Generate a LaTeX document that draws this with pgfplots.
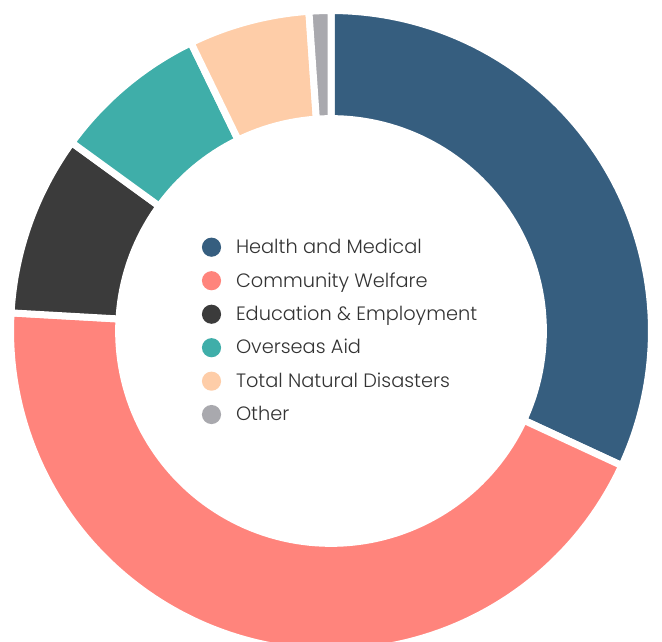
\documentclass[border=0pt]{standalone}
\usepackage{pgfplots}
\pgfplotsset{compat=1.18}
\usepackage{fontspec}
\setmainfont{Poppins}[UprightFont={* Light}]
\definecolor{hm}{HTML}{365E7F}
\definecolor{cw}{HTML}{FF847C}
\definecolor{ed}{HTML}{3B3B3B}
\definecolor{oa}{HTML}{3FAEA9}
\definecolor{nd}{HTML}{FECDA8}
\definecolor{ot}{HTML}{A9A9AE}
\definecolor{txt}{HTML}{333333}
% shares in percent, clockwise from the top
\def\vA{31.9}\def\vB{44.0}\def\vC{9.1}\def\vD{7.8}\def\vE{6.1}\def\vF{1.1}
\begin{document}
\begin{tikzpicture}
\pgfmathsetmacro\aA{90}
\pgfmathsetmacro\aB{\aA-3.6*\vA}
\pgfmathsetmacro\aC{\aB-3.6*\vB}
\pgfmathsetmacro\aD{\aC-3.6*\vC}
\pgfmathsetmacro\aE{\aD-3.6*\vD}
\pgfmathsetmacro\aF{\aE-3.6*\vE}
\pgfmathsetmacro\aG{\aF-3.6*\vF}
\begin{axis}[
  x=237.75pt, y=237.75pt,
  xmin=-1.0442, xmax=1.0442, ymin=-0.981, ymax=1.0442,
  hide axis, clip=true,
  legend cell align=left,
  legend style={at={(rel axis cs:0.515,0.4847)}, anchor=center, draw=none, fill=none,
    font=\fontsize{14.5}{16.5}\selectfont, text=txt, row sep=8.7pt, column sep=9.25pt},
]
\coordinate (bl) at (rel axis cs:0,0);
\coordinate (tr) at (rel axis cs:1,1);
\addplot[fill=hm, draw=white, line width=5.25pt, domain=\aB:\aA, samples=120, variable=\t,
  legend image code/.code={\fill[hm] (0pt,0pt) circle (4.5pt);}]
  ({1.011*cos(\t)},{1.011*sin(\t)}) -- (axis cs:0,0) -- cycle;
\addlegendentry{Health and Medical}
\addplot[fill=cw, draw=white, line width=5.25pt, domain=\aC:\aB, samples=160, variable=\t,
  legend image code/.code={\fill[cw] (0pt,0pt) circle (4.5pt);}]
  ({1.011*cos(\t)},{1.011*sin(\t)}) -- (axis cs:0,0) -- cycle;
\addlegendentry{Community Welfare}
\addplot[fill=ed, draw=white, line width=5.25pt, domain=\aD:\aC, samples=40, variable=\t,
  legend image code/.code={\fill[ed] (0pt,0pt) circle (4.5pt);}]
  ({1.011*cos(\t)},{1.011*sin(\t)}) -- (axis cs:0,0) -- cycle;
\addlegendentry{Education \& Employment}
\addplot[fill=oa, draw=white, line width=5.25pt, domain=\aE:\aD, samples=40, variable=\t,
  legend image code/.code={\fill[oa] (0pt,0pt) circle (4.5pt);}]
  ({1.011*cos(\t)},{1.011*sin(\t)}) -- (axis cs:0,0) -- cycle;
\addlegendentry{Overseas Aid}
\addplot[fill=nd, draw=white, line width=5.25pt, domain=\aF:\aE, samples=30, variable=\t,
  legend image code/.code={\fill[nd] (0pt,0pt) circle (4.5pt);}]
  ({1.011*cos(\t)},{1.011*sin(\t)}) -- (axis cs:0,0) -- cycle;
\addlegendentry{Total Natural Disasters}
\addplot[fill=ot, draw=white, line width=5.25pt, domain=\aG:\aF, samples=10, variable=\t,
  legend image code/.code={\fill[ot] (0pt,0pt) circle (4.5pt);}]
  ({1.011*cos(\t)},{1.011*sin(\t)}) -- (axis cs:0,0) -- cycle;
\addlegendentry{Other}
\addplot[fill=white, draw=none, domain=0:360, samples=200, variable=\t, forget plot]
  ({0.681*cos(\t)},{0.681*sin(\t)}) -- cycle;
\end{axis}
\pgfresetboundingbox
\path[use as bounding box] (bl) rectangle (tr);
\end{tikzpicture}
\end{document}
